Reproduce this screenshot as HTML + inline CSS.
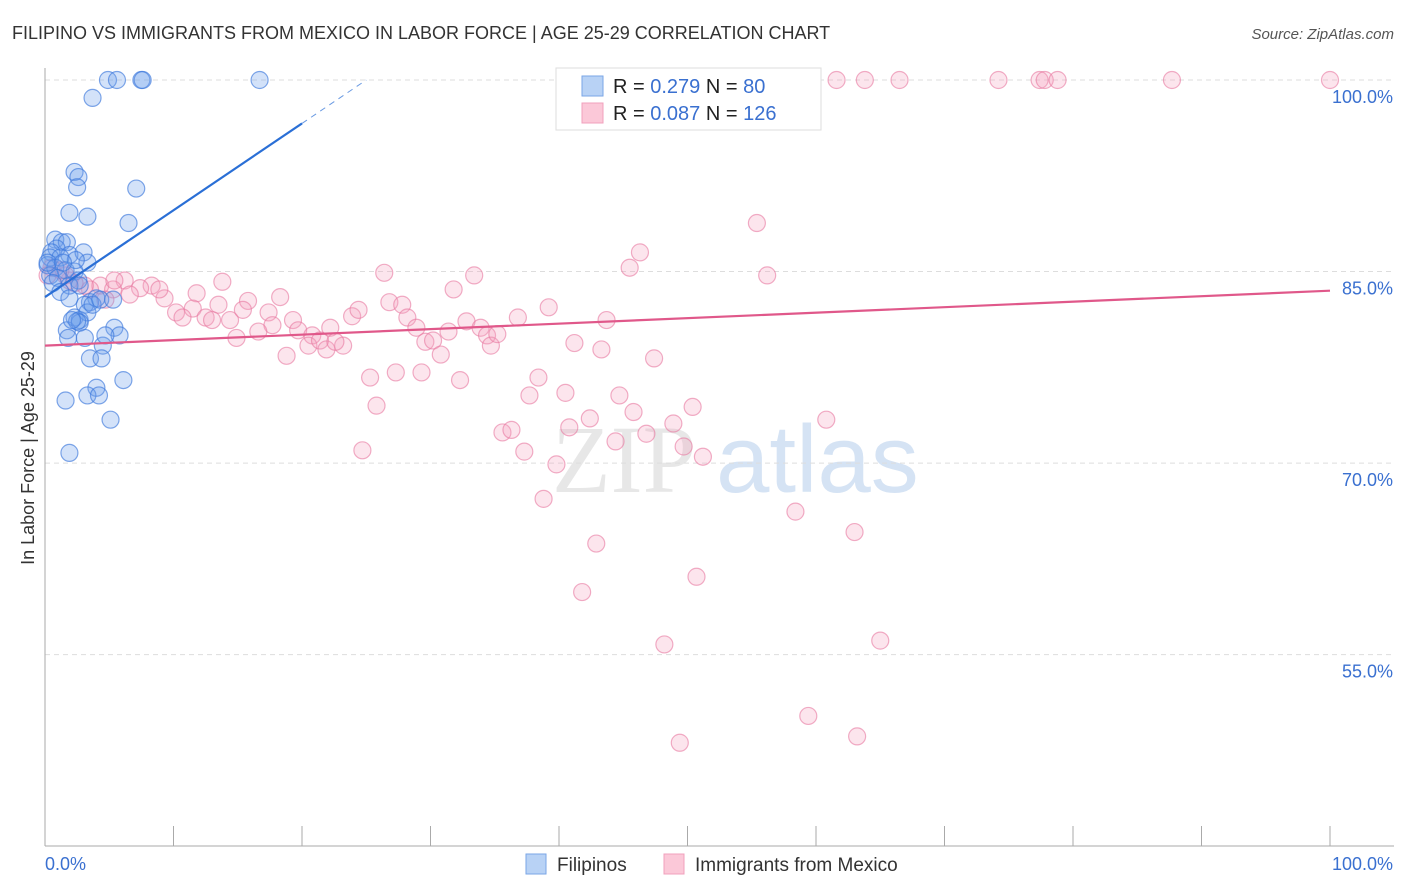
<!DOCTYPE html>
<html><head><meta charset="utf-8"><style>
body{margin:0;background:#fff;font-family:"Liberation Sans",sans-serif;}
svg{display:block}
</style></head><body>
<svg id="chart" width="1406" height="892">
<text x="12" y="39" font-size="18" fill="#333">FILIPINO VS IMMIGRANTS FROM MEXICO IN LABOR FORCE | AGE 25-29 CORRELATION CHART</text>
<text x="1394" y="39" font-size="15" fill="#555" font-style="italic" text-anchor="end">Source: ZipAtlas.com</text>
<text x="0" y="0" transform="translate(34,458) rotate(-90)" font-size="18" fill="#333" text-anchor="middle">In Labor Force | Age 25-29</text>
<g font-size="96" opacity="0.35">
<text x="552" y="492" fill="#bbb" font-family="Liberation Serif,serif">ZIP</text>
<text x="716" y="492" fill="#8ab0e0">atlas</text></g>
<g id="grid"></g><g id="axes"></g><g id="pts"></g><g id="lines"></g>
<g>
<rect x="556" y="68" width="265" height="62" fill="#fff" stroke="#ddd"/>
<rect x="582" y="76" width="21" height="20" fill="#b8d2f5" stroke="#7aa6e6"/>
<rect x="582" y="103" width="21" height="20" fill="#fbc8d8" stroke="#f0a0bc"/>
<text x="613" y="93" font-size="20" fill="#222">R = <tspan fill="#3a70d0">0.279</tspan>   N =  <tspan fill="#3a70d0">80</tspan></text>
<text x="613" y="120" font-size="20" fill="#222">R = <tspan fill="#3a70d0">0.087</tspan>   N = <tspan fill="#3a70d0">126</tspan></text>
</g>
<g>
<rect x="526" y="854" width="20" height="20" fill="#b8d2f5" stroke="#7aa6e6"/>
<text x="557" y="871" font-size="19" fill="#333">Filipinos</text>
<rect x="664" y="854" width="20" height="20" fill="#fbc8d8" stroke="#f0a0bc"/>
<text x="695" y="871" font-size="19" fill="#333">Immigrants from Mexico</text>
</g>
</svg>
<script>
const yTicks=[100,85,70,55];
const yTickLabels=["100.0%","85.0%","70.0%","55.0%"];
const xTicks=[0,10,20,30,40,50,60,70,80,90,100];
const xLabels=["0.0%","100.0%"];
const blueX=[4.9,5.6,7.5,7.6,16.7,3.7,2.3,2.6,2.5,7.1,1.9,3.3,6.5,0.8,1.3,1.7,0.9,0.5,1.9,3.0,0.4,1.2,3.3,0.2,0.8,1.6,2.3,0.4,1.0,2.6,0.6,1.9,2.7,1.2,4.0,1.9,3.5,3.1,1.7,2.3,2.7,3.3,3.7,4.3,1.8,3.1,5.4,5.8,4.5,4.7,3.5,4.4,4.0,6.1,1.6,3.3,4.2,5.1,1.9,2.7,2.5,2.1,5.3,2.4,0.2,1.4];
const blueY=[100,100,100,100,100,98.6,92.8,92.4,91.6,91.5,89.6,89.3,88.8,87.5,87.3,87.3,86.8,86.5,86.3,86.5,86.1,86.1,85.7,85.5,85.3,85.1,85.0,84.7,84.5,84.3,84.1,83.9,83.9,83.4,82.9,82.9,82.6,82.4,80.4,81.4,81.2,81.8,82.4,82.8,79.8,79.8,80.6,80.0,79.2,80.0,78.2,78.2,75.9,76.5,74.9,75.3,75.3,73.4,70.8,81.0,81.1,81.2,82.8,85.9,85.7,85.7];
const pinkX=[51.8,52.5,53.7,54.2,54.5,57.4,61.6,63.8,66.5,74.2,77.4,77.8,78.8,87.7,100,55.4,46.3,45.5,56.2,26.4,33.4,13.8,6.2,8.3,7.4,4.3,5.3,3.5,9.3,11.8,18.3,15.8,13.5,11.5,10.2,10.7,12.5,13.0,14.4,15.4,17.4,17.7,16.6,14.9,19.3,19.7,20.8,20.5,21.4,22.2,21.9,23.2,22.6,18.8,23.9,24.4,26.8,27.8,28.2,28.9,29.6,30.2,30.8,31.4,32.8,33.9,34.4,34.7,35.2,36.8,39.2,43.7,41.2,43.3,47.4,31.8,25.3,27.3,29.3,32.3,38.4,37.7,40.5,25.8,24.7,35.6,36.3,37.3,39.8,40.8,42.4,44.4,44.7,45.8,46.8,48.9,49.7,51.2,50.4,60.8,38.8,42.9,58.4,63.0,50.7,41.8,48.2,65.0,59.4,49.4,63.2,4.7,8.9,5.4,3.1,1.9,1.6,1.2,2.3,6.6,0.5,0.2];
const pinkY=[100,100,100,100,100,100,100,100,100,100,100,100,100,100,100,88.8,86.5,85.3,84.7,84.9,84.7,84.2,84.3,83.9,83.7,83.9,83.6,83.6,82.9,83.3,83.0,82.7,82.4,82.1,81.8,81.4,81.4,81.2,81.2,82.0,81.8,80.8,80.3,79.8,81.2,80.4,80.0,79.2,79.6,80.6,78.9,79.2,79.5,78.4,81.5,82.0,82.6,82.4,81.4,80.6,79.5,79.6,78.5,80.3,81.1,80.6,80.0,79.2,80.1,81.4,82.2,81.2,79.4,78.9,78.2,83.6,76.7,77.1,77.1,76.5,76.7,75.3,75.5,74.5,71.0,72.4,72.6,70.9,69.9,72.8,73.5,71.7,75.3,74.0,72.3,73.1,71.3,70.5,74.4,73.4,67.2,63.7,66.2,64.6,61.1,59.9,55.8,56.1,50.2,48.1,48.6,82.8,83.6,84.3,83.9,84.3,84.7,85.1,84.1,83.2,85.3,84.7];
const blueTrend=[83.0,0.68];
const pinkTrend=[79.2,0.043];
const NS="http://www.w3.org/2000/svg";
const X0=45,X1=1330,Y100=80,PPY=12.77;
function sx(v){return X0+(X1-X0)*v/100;}
function sy(v){return Y100+(100-v)*PPY;}
function mk(t,a,p){const e=document.createElementNS(NS,t);for(const k in a)e.setAttribute(k,a[k]);p.appendChild(e);return e;}
const grid=document.getElementById('grid'),axes=document.getElementById('axes'),pts=document.getElementById('pts'),lines=document.getElementById('lines');
yTicks.forEach((v,i)=>{
 const l=mk('line',{x1:X0,x2:1394,y1:sy(v),y2:sy(v),stroke:'#ddd','stroke-dasharray':'5,4'},grid);
 
 
 const t=mk('text',{x:1393,y:sy(v)+23,'font-size':18,fill:'#3a70d0','text-anchor':'end'},axes);
 t.textContent=yTickLabels[i];
 
 
});
const ya=mk('line',{x1:X0,x2:X0,y1:68,y2:846,stroke:'#aaa'},axes);


const xa=mk('line',{x1:X0,x2:1394,y1:846,y2:846,stroke:'#aaa'},axes);


xTicks.forEach(v=>{
 const t=mk('line',{x1:sx(v),x2:sx(v),y1:826,y2:846,stroke:'#aaa'},axes);
 
 
});
[[0,'start',X0],[1,'end',1393]].forEach(([i,a,x])=>{
 const t=mk('text',{x:x,y:870,'font-size':18,fill:'#3a70d0','text-anchor':a},axes);
 t.textContent=xLabels[i];
 
 
});
pinkX.forEach((x,i)=>{
 const c=mk('circle',{cx:sx(x),cy:sy(pinkY[i]),r:8.5,fill:'rgba(245,160,190,0.28)',stroke:'rgba(232,120,160,0.6)','stroke-width':1.2},pts);
 
 
});
blueX.forEach((x,i)=>{
 const c=mk('circle',{cx:sx(x),cy:sy(blueY[i]),r:8.5,fill:'rgba(110,160,235,0.3)',stroke:'rgba(60,120,220,0.65)','stroke-width':1.2},pts);
 
 
});
const pl=mk('line',{x1:sx(0),y1:sy(pinkTrend[0]),x2:sx(100),y2:sy(pinkTrend[0]+100*pinkTrend[1]),stroke:'#e0588a','stroke-width':2.2},lines);


const bEnd=(100-blueTrend[0])/blueTrend[1];
const bl=mk('line',{x1:sx(0),y1:sy(blueTrend[0]),x2:sx(20),y2:sy(blueTrend[0]+20*blueTrend[1]),stroke:'#2a6fd6','stroke-width':2.2},lines);


const bd=mk('line',{x1:sx(20),y1:sy(blueTrend[0]+20*blueTrend[1]),x2:sx(bEnd),y2:sy(100),stroke:'#2a6fd6','stroke-width':1,'stroke-dasharray':'6,5',opacity:0.7},lines);


</script>
</body></html>
